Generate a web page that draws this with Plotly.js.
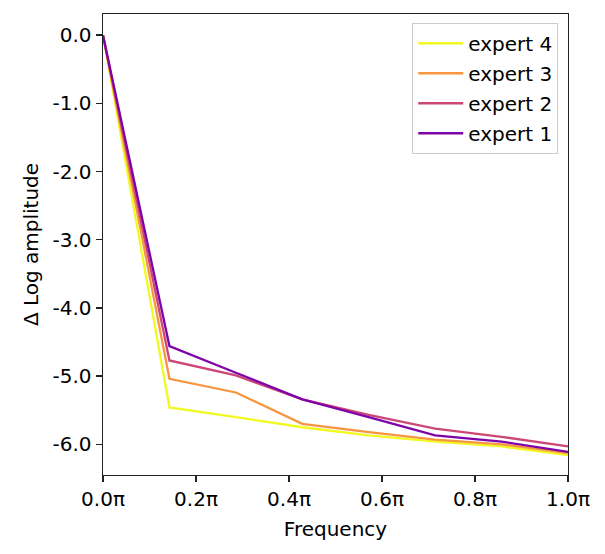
<!DOCTYPE html>
<html>
<head>
<meta charset="utf-8">
<script src="https://cdn.plot.ly/plotly-3.0.1.min.js"></script>
<style>
  html, body { margin: 0; padding: 0; background: #fff; }
  #chart { width: 605px; height: 554px; }
</style>
</head>
<body>
<div id="chart"></div>
<script>
"use strict"
// frequency positions, in units of pi
let freq = [0, 1 / 7, 2 / 7, 3 / 7, 4 / 7, 5 / 7, 6 / 7, 1];

let expert_1 = [0.0, -4.56, -4.95, -5.34, -5.60, -5.87, -5.96, -6.11];
let expert_2 = [0.0, -4.77, -4.99, -5.34, -5.57, -5.77, -5.89, -6.03];
let expert_3 = [0.0, -5.04, -5.24, -5.70, -5.82, -5.93, -6.00, -6.13];
let expert_4 = [0.0, -5.46, -5.60, -5.75, -5.87, -5.96, -6.03, -6.16];

let names = ["expert 4", "expert 3", "expert 2", "expert 1"];
let series = [expert_4, expert_3, expert_2, expert_1];
let colors = ["#f0f921", "#f89540", "#cc4778", "#7e03a8"];

let x_ticks = [0, 0.2, 0.4, 0.6, 0.8, 1.0];
let x_labels = ["0.0π", "0.2π", "0.4π", "0.6π", "0.8π", "1.0π"];
let y_ticks = [0, -1, -2, -3, -4, -5, -6];
let y_labels = ["0.0", "-1.0", "-2.0", "-3.0", "-4.0", "-5.0", "-6.0"];

let font_name = "DejaVu Sans, sans-serif";
let font_size = 20;

let data = [];
for (let i = 0; i < series.length; i++) {
    data.push({
        x: freq,
        y: series[i],
        name: names[i],
        legendgroup: names[i], // 每条线单独成组，用 tracegroupgap 拉开间距
        type: 'scatter',
        mode: 'lines',
        line: { color: colors[i], width: 2.3 }
    });
}

let layout = {
    width: 605,
    height: 554,
    margin: { l: 103, r: 37, t: 14, b: 79 },
    paper_bgcolor: '#fff',
    plot_bgcolor: '#fff',
    font: { family: font_name, size: font_size, color: '#000' },
    showlegend: true,
    legend: {
        x: 0.979, y: 0.981,
        xanchor: 'right', yanchor: 'top',
        bgcolor: 'rgba(255,255,255,0.8)',
        bordercolor: '#cccccc',
        borderwidth: 1,
        font: { family: font_name, size: font_size },
        itemwidth: 45,
        tracegroupgap: 1
    },
    xaxis: {
        range: [0, 1],
        tickvals: x_ticks,
        ticktext: x_labels,
        ticks: 'outside',
        ticklen: 6,
        tickwidth: 1.3,
        tickcolor: '#222',
        showgrid: false,
        zeroline: false,
        showline: true,
        linecolor: '#222',
        linewidth: 1.4,
        mirror: true,
        title: { text: 'Frequency', font: { family: font_name, size: font_size }, standoff: 11 }
    },
    yaxis: {
        range: [-6.45, 0.31],
        tickvals: y_ticks,
        ticktext: y_labels,
        ticks: 'outside',
        ticklen: 6,
        tickwidth: 1.3,
        tickcolor: '#222',
        showgrid: false,
        zeroline: false,
        showline: true,
        linecolor: '#222',
        linewidth: 1.4,
        mirror: true,
        title: { text: 'Δ Log amplitude', font: { family: font_name, size: font_size }, standoff: 8 }
    }
};

Plotly.newPlot('chart', data, layout, { displayModeBar: false, staticPlot: true });
</script>
</body>
</html>
